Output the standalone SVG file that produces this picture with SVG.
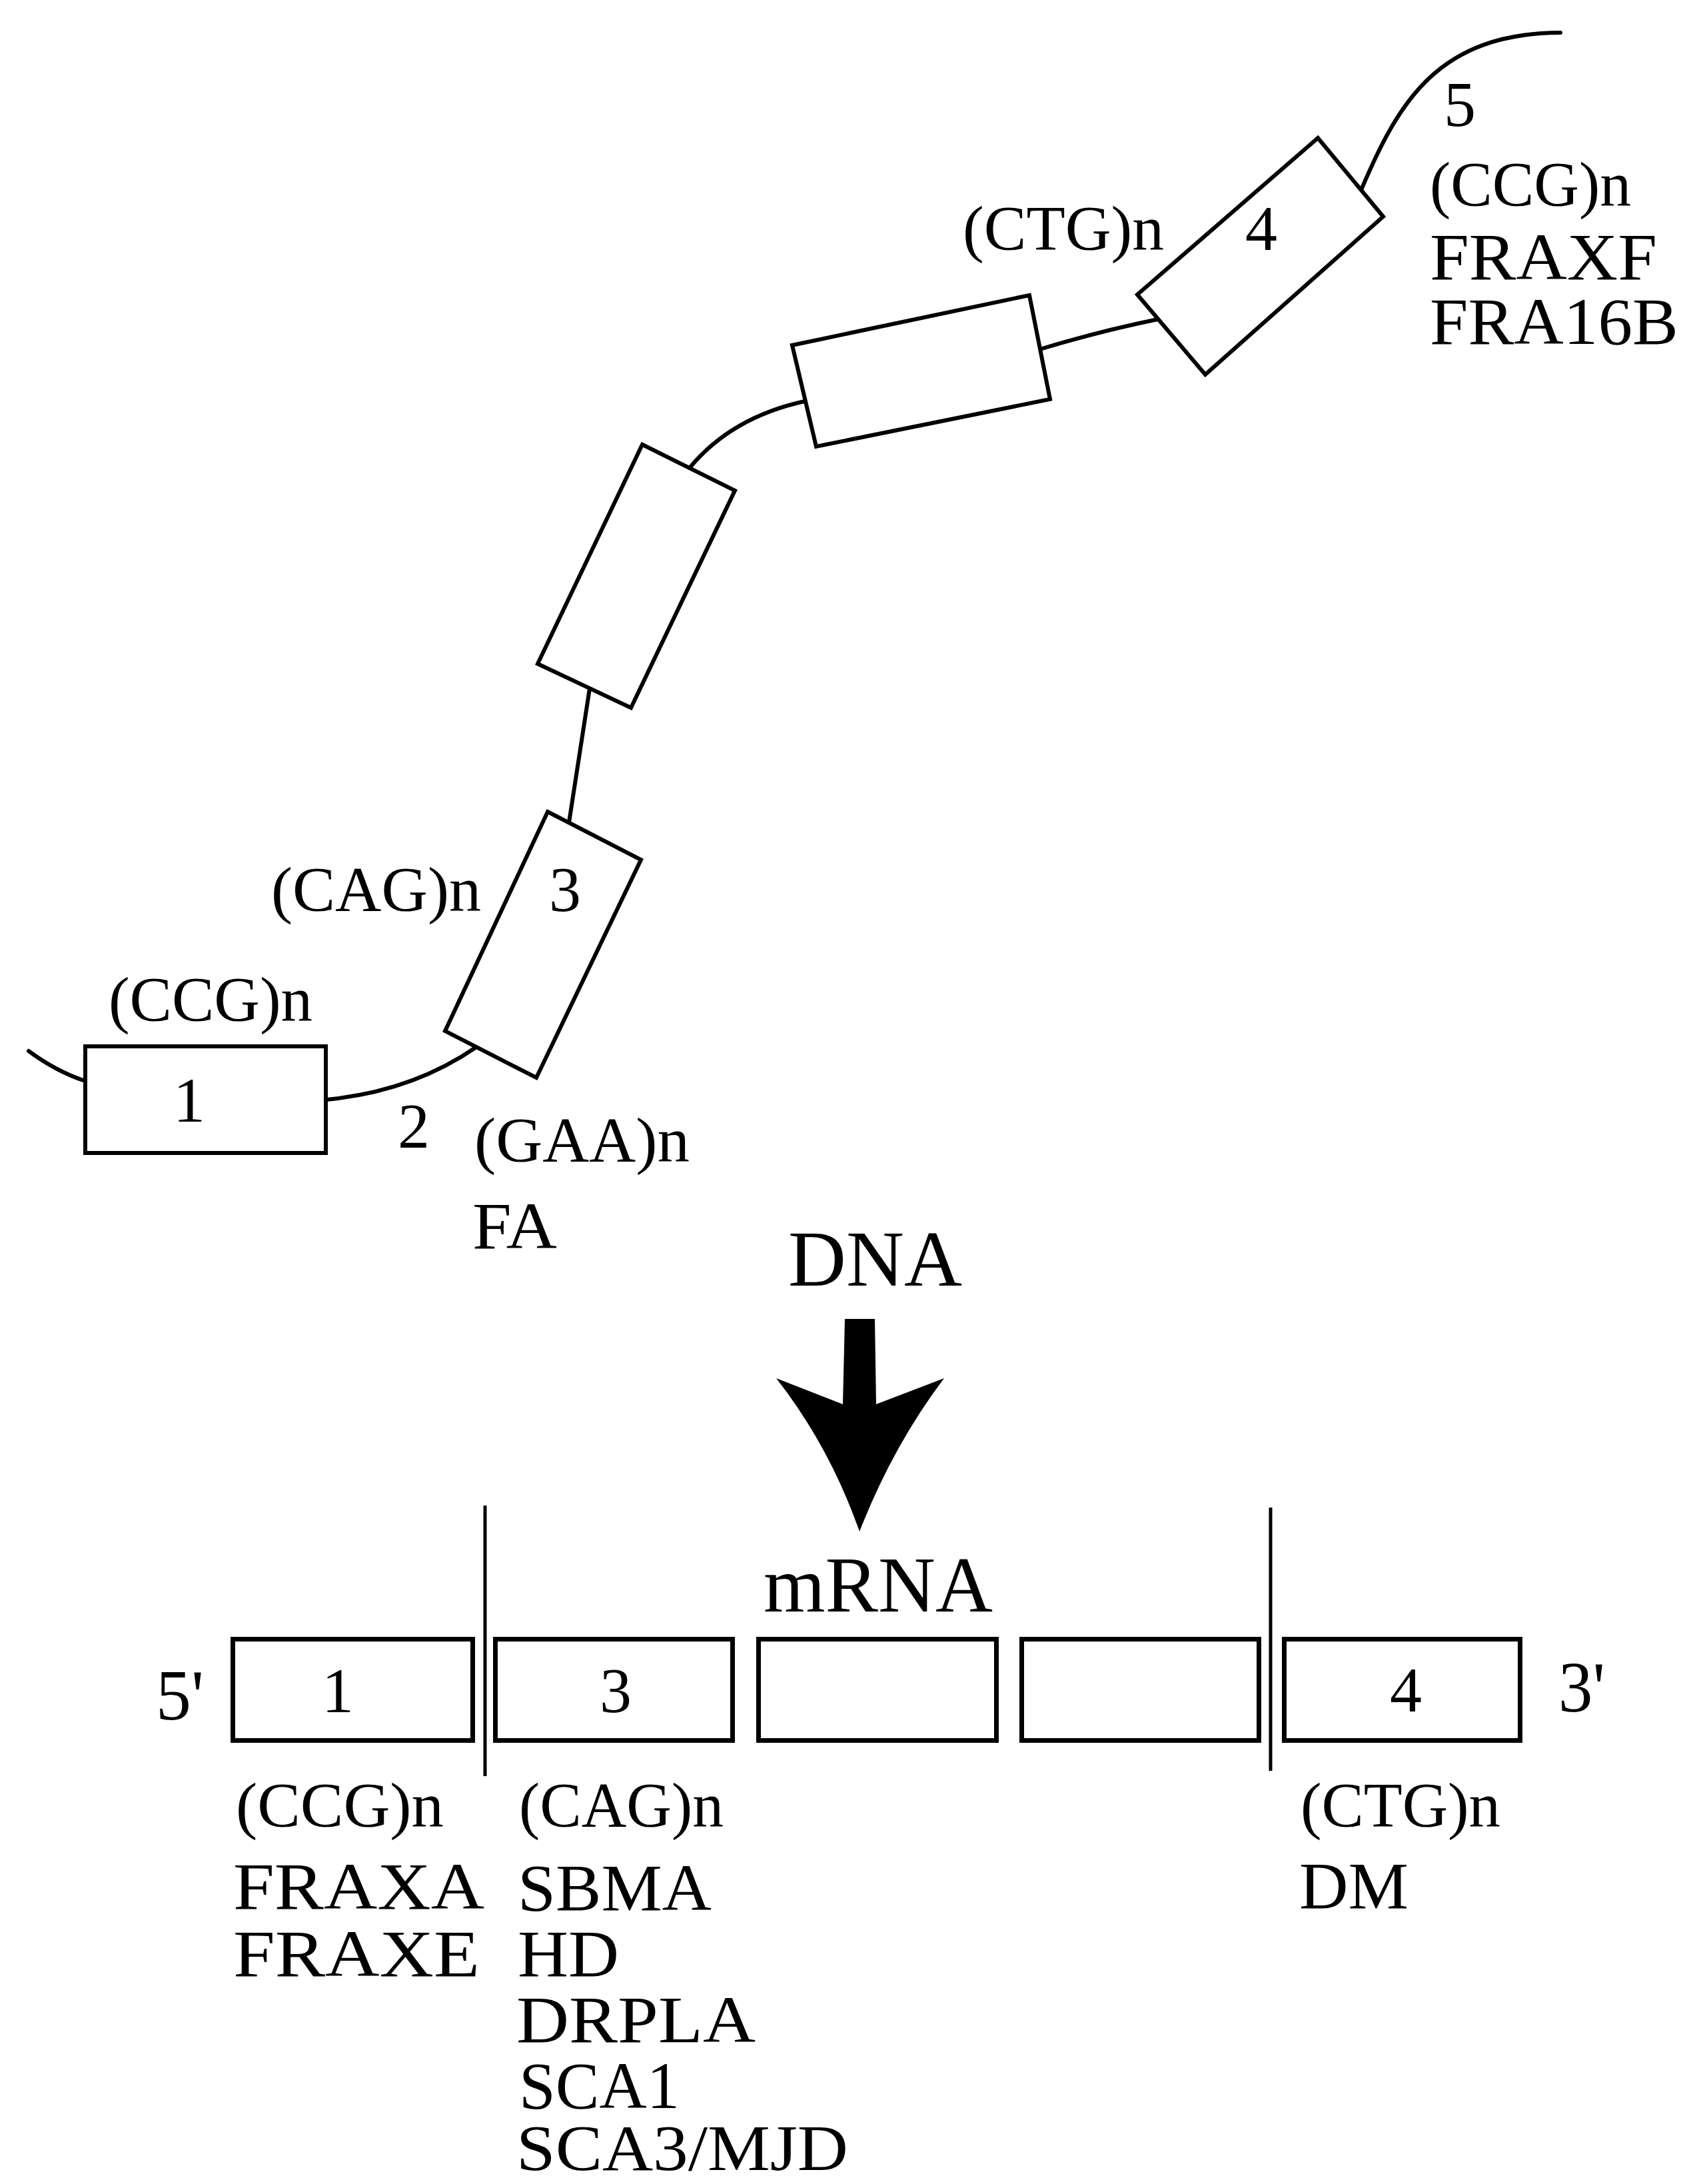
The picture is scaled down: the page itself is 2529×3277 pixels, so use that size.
<svg xmlns="http://www.w3.org/2000/svg" width="2529" height="3277" viewBox="0 0 2529 3277">
<style>
.t{font-family:"Liberation Serif","Times New Roman",serif;fill:#000}
.r{font-size:96px}
.d{font-size:100px}
.n{font-size:96px;text-anchor:middle}
.box{fill:#fff;stroke:#000;stroke-width:6;stroke-linejoin:miter}
.lbox{fill:#fff;stroke:#000;stroke-width:7}
.ln{fill:none;stroke:#000;stroke-width:6;stroke-linecap:round}
.div{fill:none;stroke:#000;stroke-width:5}
</style>
<rect x="0" y="0" width="2529" height="3277" fill="#fff"/>

<g id="connectors">
  <path class="ln" d="M43,1577 Q85,1608 128,1622"/>
  <path class="ln" d="M489,1650 Q618,1638 715,1571"/>
  <path class="ln" d="M854,1234 L885,1033"/>
  <path class="ln" d="M1035,702 Q1098,626 1208,602"/>
  <path class="ln" d="M1561,524 Q1650,497 1738,479"/>
  <path class="ln" d="M2043,285 C2100,150 2160,50 2342,49"/>
</g>

<g id="exon1-dna">
  <rect class="box" x="128" y="1570" width="361" height="160"/>
  <text class="t n" x="284" y="1683">1</text>
</g>
<g id="exon3-dna">
  <polygon class="box" points="822,1218 962,1290 805,1617 668,1547"/>
  <text class="t n" x="848" y="1367">3</text>
</g>
<g id="exon-m1-dna">
  <polygon class="box" points="964,667 1103,736 947,1062 807,996"/>
</g>
<g id="exon-m2-dna">
  <polygon class="box" points="1189,518 1545,443 1576,599 1225,670"/>
</g>
<g id="exon4-dna">
  <polygon class="box" points="1978,207 2076,325 1809,562 1707,442"/>
  <text class="t n" x="1893" y="375">4</text>
</g>

<g id="dna-labels">
  <text class="t r" x="163" y="1532" textLength="306" lengthAdjust="spacingAndGlyphs">(CCG)n</text>
  <text class="t r" x="407" y="1367" textLength="315" lengthAdjust="spacingAndGlyphs">(CAG)n</text>
  <text class="t n" x="621" y="1722">2</text>
  <text class="t r" x="712" y="1743" textLength="323" lengthAdjust="spacingAndGlyphs">(GAA)n</text>
  <text class="t d" x="709" y="1873" textLength="127" lengthAdjust="spacingAndGlyphs">FA</text>
  <text class="t r" x="1445" y="375" textLength="302" lengthAdjust="spacingAndGlyphs">(CTG)n</text>
  <text class="t n" x="2191" y="189">5</text>
  <text class="t r" x="2146" y="309" textLength="302" lengthAdjust="spacingAndGlyphs">(CCG)n</text>
  <text class="t d" x="2146" y="419" textLength="341" lengthAdjust="spacingAndGlyphs">FRAXF</text>
  <text class="t d" x="2146" y="516" textLength="373" lengthAdjust="spacingAndGlyphs">FRA16B</text>
</g>

<g id="transcription-arrow">
  <text class="t" x="1183" y="1929" font-size="118" textLength="261" lengthAdjust="spacingAndGlyphs">DNA</text>
  <path fill="#000" d="M1268,1979 L1313,1979 L1315,2107 L1417,2068 Q1340,2170 1290,2298 Q1245,2170 1165,2068 L1265,2107 Z"/>
  <text class="t" x="1146" y="2418" font-size="119" textLength="344" lengthAdjust="spacingAndGlyphs">mRNA</text>
</g>

<g id="mrna-dividers">
  <line class="div" x1="728" y1="2259" x2="728" y2="2665"/>
  <line class="div" x1="1907" y1="2262" x2="1907" y2="2657"/>
</g>

<g id="mrna-5end">
  <text class="t" x="234" y="2580" font-size="108" textLength="72" lengthAdjust="spacingAndGlyphs">5'</text>
</g>
<g id="exon1-mrna">
  <rect class="lbox" x="349.5" y="2459.5" width="360" height="152"/>
  <text class="t n" x="507" y="2569">1</text>
</g>
<g id="exon3-mrna">
  <rect class="lbox" x="743.5" y="2459.5" width="356" height="152"/>
  <text class="t n" x="924" y="2569">3</text>
</g>
<g id="exon-e1-mrna">
  <rect class="lbox" x="1138.5" y="2459.5" width="357" height="152"/>
</g>
<g id="exon-e2-mrna">
  <rect class="lbox" x="1533.5" y="2459.5" width="356" height="152"/>
</g>
<g id="exon4-mrna">
  <rect class="lbox" x="1927.5" y="2459.5" width="354" height="152"/>
  <text class="t n" x="2110" y="2568">4</text>
</g>
<g id="mrna-3end">
  <text class="t" x="2339" y="2568" font-size="108" textLength="70" lengthAdjust="spacingAndGlyphs">3'</text>
</g>

<g id="mrna-labels">
  <text class="t r" x="354" y="2741" textLength="312" lengthAdjust="spacingAndGlyphs">(CCG)n</text>
  <text class="t d" x="350" y="2864" textLength="377" lengthAdjust="spacingAndGlyphs">FRAXA</text>
  <text class="t d" x="350" y="2965" textLength="370" lengthAdjust="spacingAndGlyphs">FRAXE</text>
  <text class="t r" x="779" y="2741" textLength="307" lengthAdjust="spacingAndGlyphs">(CAG)n</text>
  <text class="t d" x="777" y="2866" textLength="291" lengthAdjust="spacingAndGlyphs">SBMA</text>
  <text class="t d" x="777" y="2965" textLength="152" lengthAdjust="spacingAndGlyphs">HD</text>
  <text class="t d" x="775" y="3064" textLength="359" lengthAdjust="spacingAndGlyphs">DRPLA</text>
  <text class="t d" x="779" y="3163" textLength="241" lengthAdjust="spacingAndGlyphs">SCA1</text>
  <text class="t" x="775" y="3256" font-size="98" textLength="498" lengthAdjust="spacingAndGlyphs">SCA3/MJD</text>
  <text class="t r" x="1952" y="2741" textLength="300" lengthAdjust="spacingAndGlyphs">(CTG)n</text>
  <text class="t d" x="1950" y="2863" textLength="164" lengthAdjust="spacingAndGlyphs">DM</text>
</g>
</svg>
